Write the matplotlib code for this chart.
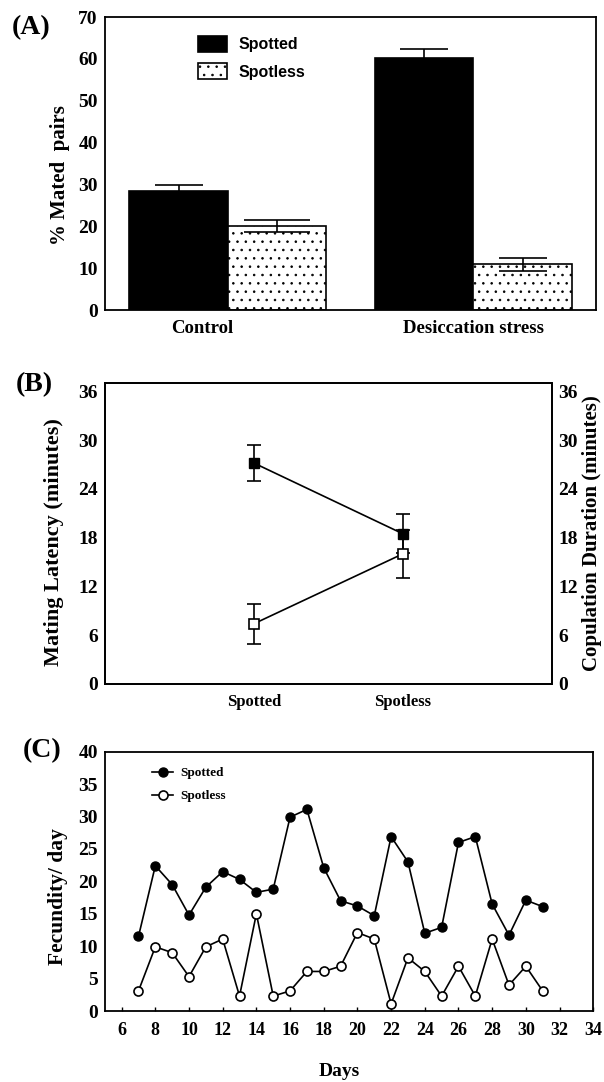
import matplotlib
matplotlib.use('Agg')
import matplotlib.pyplot as plt
import matplotlib.transforms as mtransforms
import numpy as np

plt.rcParams['font.family'] = ['Liberation Serif', 'DejaVu Serif']
plt.rcParams['font.weight'] = 'bold'
plt.rcParams['hatch.linewidth'] = 0.6

# ---------------- data ----------------
# Panel A
groups = ['Control', 'Desiccation stress']
mated_spotted = [28.4, 60.3]
mated_spotted_err = [1.4, 2.0]
mated_spotless = [20.1, 10.9]
mated_spotless_err = [1.4, 1.5]

# Panel B
b_cats = ['Spotted', 'Spotless']
latency = [27.2, 18.5]
latency_err = [2.2, 2.4]
duration = [7.4, 16.0]
duration_err = [2.5, 2.9]

# Panel C
days = list(range(7, 32))
fec_spotted = [11.5, 22.4, 19.5, 14.8, 19.1, 21.5, 20.3, 18.3, 18.8, 29.9,
               31.1, 22.1, 17.0, 16.2, 14.7, 26.9, 23.0, 12.0, 12.9, 26.0,
               26.9, 16.5, 11.7, 17.1, 16.1]
fec_spotless = [3.1, 9.9, 9.0, 5.3, 9.9, 11.1, 2.3, 15.0, 2.3, 3.1,
                6.1, 6.1, 6.9, 12.1, 11.1, 1.1, 8.2, 6.1, 2.3, 6.9,
                2.3, 11.1, 4.0, 6.9, 3.1]
c_xticks = list(range(6, 36, 2))

# ---------------- figure ----------------
W, H = 604, 1082
fig = plt.figure(figsize=(W / 100, H / 100), dpi=100)


def px_axes(left, top, right, bottom):
    return fig.add_axes([left / W, 1 - bottom / H, (right - left) / W, (bottom - top) / H])


def ftext(x, y, s, **kw):
    fig.text(x / W, 1 - y / H, s, ha='center', va='center', **kw)


SPINE_LW = 1.3

# ---------------- Panel A ----------------
axA = px_axes(104.8, 17, 596.3, 310)
x = np.arange(len(groups))
w = 0.4
axA.bar(x - w / 2, mated_spotted, w, color='black', edgecolor='black', linewidth=1.2,
        label='Spotted', zorder=2)
axA.bar(x + w / 2, mated_spotless, w, color='white', edgecolor='black', linewidth=1.2,
        hatch='..', label='Spotless', zorder=2)
caps_sp = [17, 17]
caps_sl = [24, 17]
for i in range(len(groups)):
    axA.errorbar(x[i] - w / 2, mated_spotted[i], yerr=mated_spotted_err[i], fmt='none',
                 ecolor='black', elinewidth=1.2, capsize=caps_sp[i], capthick=1.2, zorder=3)
    axA.errorbar(x[i] + w / 2, mated_spotless[i], yerr=mated_spotless_err[i], fmt='none',
                 ecolor='black', elinewidth=1.2, capsize=caps_sl[i], capthick=1.2, zorder=3)
axA.set_xlim(-0.5, 1.5)
axA.set_ylim(0, 70)
axA.set_yticks(range(0, 71, 10))
axA.set_xticks(x)
axA.set_xticklabels(groups, fontsize=13.5, fontweight='bold')
axA.tick_params(axis='y', length=0, pad=5, labelsize=14)
axA.tick_params(axis='x', length=0, pad=7)
for lbl in axA.get_xticklabels():
    if lbl.get_text() == 'Control':
        lbl.set_transform(lbl.get_transform() +
                          mtransforms.ScaledTranslation(-25 / 100, 0, fig.dpi_scale_trans))
for sp in axA.spines.values():
    sp.set_linewidth(SPINE_LW)
legA = axA.legend(loc='upper left', bbox_to_anchor=(0.19, 0.935), frameon=False,
                  prop={'family': 'Liberation Sans', 'weight': 'bold', 'size': 11.5},
                  handlelength=1.78, handleheight=1.13, handletextpad=0.75,
                  labelspacing=0.7, borderpad=0, borderaxespad=0)

ftext(31.5, 28, '(A)', fontsize=20, fontweight='bold')
ftext(60, 175, '% Mated  pairs', fontsize=15, fontweight='bold', rotation=90)

# ---------------- Panel B ----------------
axB = px_axes(104.8, 383.3, 551.5, 684)
xb = np.arange(1, len(b_cats) + 1)
axB.errorbar(xb, latency, yerr=latency_err, fmt='-s', color='black', mfc='black',
             mec='black', ms=7, lw=1.2, elinewidth=1.2, capsize=5, capthick=1.2)
axB.set_xlim(0, 3)
axB.set_ylim(0, 37)
axB.set_yticks(range(0, 37, 6))
axB.set_xticks(xb)
axB.set_xticklabels(b_cats, fontsize=12, fontweight='bold')
axB.tick_params(axis='y', length=0, pad=5, labelsize=14)
axB.tick_params(axis='x', length=0, pad=7)
axB2 = axB.twinx()
axB2.errorbar(xb, duration, yerr=duration_err, fmt='-s', color='black', mfc='white',
              mec='black', ms=7, mew=1.2, lw=1.2, elinewidth=1.2, capsize=5, capthick=1.2)
axB2.set_ylim(0, 37)
axB2.set_yticks(range(0, 37, 6))
axB2.tick_params(axis='y', length=0, pad=5, labelsize=14)
for a in (axB, axB2):
    for sp in a.spines.values():
        sp.set_linewidth(SPINE_LW)

ftext(34, 384.5, '(B)', fontsize=20, fontweight='bold')
ftext(54, 542, 'Mating Latency (minutes)', fontsize=16, fontweight='bold', rotation=90)
ftext(592, 533, 'Copulation Duration (minutes)', fontsize=15, fontweight='bold', rotation=90)

# ---------------- Panel C ----------------
axC = px_axes(104.8, 751.7, 593.2, 1011)
axC.plot(days, fec_spotted, '-o', color='black', mfc='black', mec='black', ms=6.5,
         lw=1.2, label='Spotted')
axC.plot(days, fec_spotless, '-o', color='black', mfc='white', mec='black', ms=6.5,
         mew=1.2, lw=1.2, label='Spotless')
axC.set_xlim(5, 34)
axC.set_ylim(0, 40)
axC.set_xticks(c_xticks)
axC.set_yticks(range(0, 41, 5))
axC.tick_params(axis='x', direction='in', length=3, width=1, pad=8, labelsize=13)
axC.tick_params(axis='y', length=0, pad=5, labelsize=14)
for sp in axC.spines.values():
    sp.set_linewidth(SPINE_LW)
axC.legend(loc='upper left', bbox_to_anchor=(0.096, 0.94), frameon=False,
           prop={'family': 'Liberation Serif', 'weight': 'bold', 'size': 9.5},
           handlelength=1.64, handletextpad=0.55, labelspacing=0.8,
           borderpad=0, borderaxespad=0)

ftext(42, 751, '(C)', fontsize=20, fontweight='bold')
ftext(58, 897, 'Fecundity/ day', fontsize=15.5, fontweight='bold', rotation=90)
ftext(339, 1071, 'Days', fontsize=14, fontweight='bold')

fig.savefig('out.png', dpi=100)
